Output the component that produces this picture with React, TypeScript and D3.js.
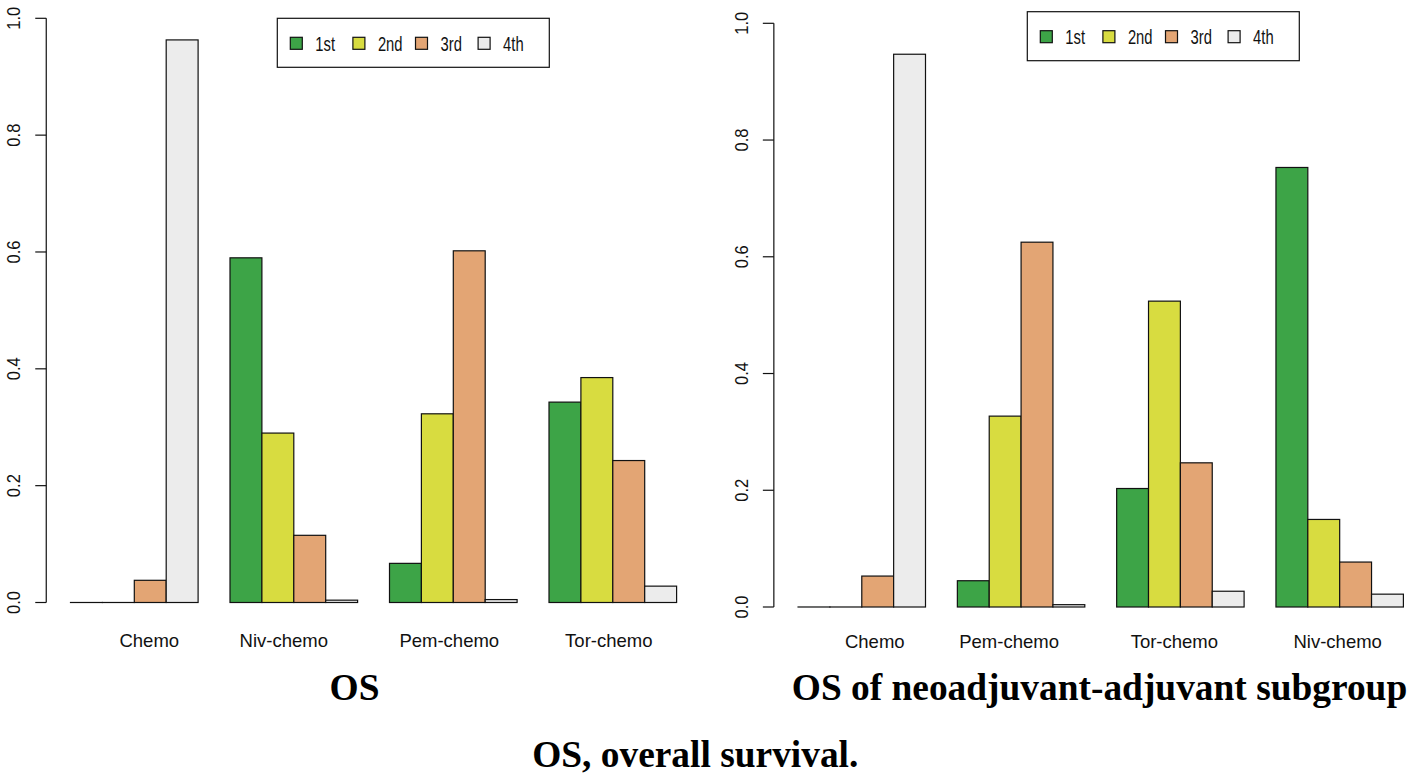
import * as d3 from "d3";

// OS, all patients
const osCategories = ["Chemo", "Niv-chemo", "Pem-chemo", "Tor-chemo"];
const os1st = [0, 0.59, 0.067, 0.343];
const os2nd = [0, 0.29, 0.323, 0.385];
const os3rd = [0.038, 0.115, 0.602, 0.243];
const os4th = [0.963, 0.004, 0.005, 0.028];

// OS, neoadjuvant-adjuvant subgroup
const subCategories = ["Chemo", "Pem-chemo", "Tor-chemo", "Niv-chemo"];
const sub1st = [0, 0.045, 0.203, 0.753];
const sub2nd = [0, 0.327, 0.524, 0.15];
const sub3rd = [0.053, 0.625, 0.247, 0.077];
const sub4th = [0.947, 0.004, 0.027, 0.022];

const seriesNames = ["1st", "2nd", "3rd", "4th"];
const yTicks = [0, 0.2, 0.4, 0.6, 0.8, 1.0];

const colors = ["#3da447", "#d8dc40", "#e3a574", "#ececec"];
const sans = "'Liberation Sans', Arial, sans-serif";
const serif = "'Liberation Serif', 'Times New Roman', serif";

type PanelProps = {
  categories: string[];
  series: number[][];
  x0: number; // pixel of unit 0
  unit: number; // width of one bar
  yBase: number;
  yTop: number;
  legendX: number;
  legendY: number;
  labelY: number;
  labelNudge: number[];
  title: string;
  titleX: number;
};

const Panel = (p: PanelProps) => {
  const x = d3.scaleLinear().domain([0, 20]).range([p.x0, p.x0 + p.unit * 20]);
  const y = d3.scaleLinear().domain([0, 1]).range([p.yBase, p.yTop]);
  const axisX = x(0.24);
  const nS = seriesNames.length;

  return (
    <g>
      {/* bars (zero values still show as a flat outline, like R's barplot) */}
      {p.categories.map((c, g) =>
        p.series.map((vals, s) => {
          const left = 1 + g * (nS + 1) + s;
          const h = Math.max(y(0) - y(vals[g]), 0.01);
          return (
            <rect
              key={c + s}
              x={x(left)}
              y={y(0) - h}
              width={x(left + 1) - x(left)}
              height={h}
              fill={colors[s]}
              stroke="#111"
              strokeWidth={1.2}
            />
          );
        })
      )}

      {/* y axis */}
      <line x1={axisX} x2={axisX} y1={y(0)} y2={y(1)} stroke="#111" strokeWidth={1.2} />
      {yTicks.map((t) => (
        <g key={t}>
          <line x1={axisX - 11} x2={axisX} y1={y(t)} y2={y(t)} stroke="#111" strokeWidth={1.2} />
          <text
            transform={`translate(${axisX - 32.4},${y(t)}) rotate(-90) scale(0.92,1)`}
            textAnchor="middle"
            dy="0.36em"
            fontFamily={sans}
            fontSize={18}
            fill="#111"
          >
            {t.toFixed(1)}
          </text>
        </g>
      ))}

      {/* category labels */}
      {p.categories.map((c, g) => (
        <text
          key={c}
          x={x(3 + g * (nS + 1)) + p.labelNudge[g]}
          y={p.labelY}
          textAnchor="middle"
          fontFamily={sans}
          fontSize={18.5}
          fill="#111"
        >
          {c}
        </text>
      ))}

      {/* legend */}
      <rect x={p.legendX} y={p.legendY} width={272} height={49} fill="white" stroke="#111" strokeWidth={1.2} />
      {seriesNames.map((name, i) => (
        <g key={name}>
          <rect
            x={p.legendX + 13 + i * 62.6}
            y={p.legendY + 19}
            width={12}
            height={12}
            fill={colors[i]}
            stroke="#111"
            strokeWidth={1.2}
          />
          <text
            transform={`translate(${p.legendX + 38 + i * 62.6},${p.legendY + 32.4}) scale(0.74,1)`}
            fontFamily={sans}
            fontSize={20}
            fill="#111"
          >
            {name}
          </text>
        </g>
      ))}

      {/* panel title */}
      <text
        x={p.titleX}
        y={700}
        textAnchor="middle"
        fontFamily={serif}
        fontWeight="bold"
        fontSize={37.4}
        fill="#000"
      >
        {p.title}
      </text>
    </g>
  );
};

export default function App() {
  return (
    <svg
      width={1417}
      height={779}
      style={{ position: "absolute", left: 0, top: 0, background: "white" }}
    >
      <rect width={1417} height={779} fill="white" />
      <Panel
        categories={osCategories}
        series={[os1st, os2nd, os3rd, os4th]}
        x0={38.6}
        unit={31.9}
        yBase={602.5}
        yTop={18.3}
        legendX={277.3}
        legendY={18.3}
        labelY={647}
        labelNudge={[15, -10, -4, -4]}
        title="OS"
        titleX={354.5}
      />
      <Panel
        categories={subCategories}
        series={[sub1st, sub2nd, sub3rd, sub4th]}
        x0={766.2}
        unit={31.86}
        yBase={607}
        yTop={23.3}
        legendX={1027.3}
        legendY={11.7}
        labelY={648}
        labelNudge={[13, -12, -6, -2]}
        title="OS of neoadjuvant-adjuvant subgroup"
        titleX={1099.5}
      />
      <text
        x={695.3}
        y={767}
        textAnchor="middle"
        fontFamily={serif}
        fontWeight="bold"
        fontSize={37.4}
        fill="#000"
      >
        OS, overall survival.
      </text>
    </svg>
  );
}
